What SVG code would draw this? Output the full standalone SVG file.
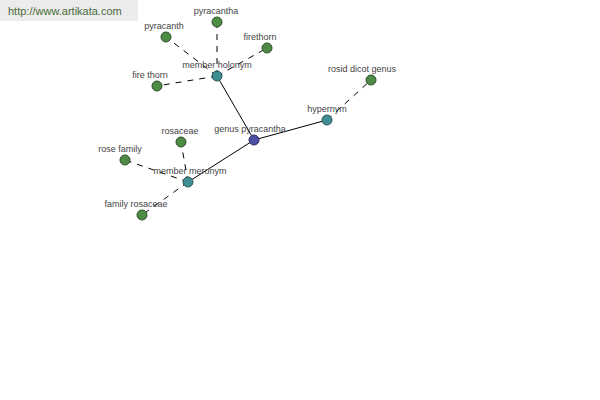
<svg xmlns="http://www.w3.org/2000/svg" width="600" height="400" viewBox="0 0 600 400">
<style>
.lbl{font-family:"Liberation Sans",Arial,sans-serif;font-size:9px;fill:#444;text-anchor:middle}
.d{stroke:#000;stroke-width:1;stroke-dasharray:6,6;fill:none}
.s{stroke:#000;stroke-width:1;fill:none}
.leaf{fill:#4e8c45;stroke:#2e4e2a;stroke-width:1}
.hub{fill:#3e8e92;stroke:#2a5558;stroke-width:1}
.root{fill:#4a4fa3;stroke:#2a2d60;stroke-width:1}
</style>
<rect x="0" y="0" width="138" height="21" fill="#ececec"/>
<text x="8" y="15" font-family="Liberation Sans,Arial,sans-serif" font-size="11" fill="#4a6a3a">http://www.artikata.com</text>
<g id="connectors">
<line class="s" x1="254" y1="140" x2="217" y2="76"/>
<line class="s" x1="254" y1="140" x2="327" y2="120"/>
<line class="s" x1="254" y1="140" x2="188" y2="182"/>
<line class="d" x1="217" y1="76" x2="217" y2="22"/>
<line class="d" x1="217" y1="76" x2="166" y2="37"/>
<line class="d" x1="217" y1="76" x2="267" y2="48"/>
<line class="d" x1="217" y1="76" x2="157" y2="86"/>
<line class="d" x1="327" y1="120" x2="371" y2="80"/>
<line class="d" x1="188" y1="182" x2="181" y2="142"/>
<line class="d" x1="188" y1="182" x2="125" y2="160"/>
<line class="d" x1="188" y1="182" x2="142" y2="215"/>
</g>
<g id="n-genus-pyracantha"><circle class="root" cx="254" cy="140" r="5"/><text class="lbl" x="250" y="132">genus pyracantha</text></g>
<g id="n-member-holonym"><circle class="hub" cx="217" cy="76" r="5"/><text class="lbl" x="217" y="68">member holonym</text></g>
<g id="n-hypernym"><circle class="hub" cx="327" cy="120" r="5"/><text class="lbl" x="327" y="112">hypernym</text></g>
<g id="n-member-meronym"><circle class="hub" cx="188" cy="182" r="5"/><text class="lbl" x="190" y="174">member meronym</text></g>
<g id="n-pyracantha"><circle class="leaf" cx="217" cy="22" r="5"/><text class="lbl" x="216" y="14">pyracantha</text></g>
<g id="n-pyracanth"><circle class="leaf" cx="166" cy="37" r="5"/><text class="lbl" x="164" y="29">pyracanth</text></g>
<g id="n-firethorn"><circle class="leaf" cx="267" cy="48" r="5"/><text class="lbl" x="260" y="40">firethorn</text></g>
<g id="n-fire-thorn"><circle class="leaf" cx="157" cy="86" r="5"/><text class="lbl" x="150" y="78">fire thorn</text></g>
<g id="n-rosid-dicot-genus"><circle class="leaf" cx="371" cy="80" r="5"/><text class="lbl" x="362" y="72">rosid dicot genus</text></g>
<g id="n-rosaceae"><circle class="leaf" cx="181" cy="142" r="5"/><text class="lbl" x="180" y="134">rosaceae</text></g>
<g id="n-rose-family"><circle class="leaf" cx="125" cy="160" r="5"/><text class="lbl" x="120" y="152">rose family</text></g>
<g id="n-family-rosaceae"><circle class="leaf" cx="142" cy="215" r="5"/><text class="lbl" x="136" y="207">family rosaceae</text></g>
</svg>
